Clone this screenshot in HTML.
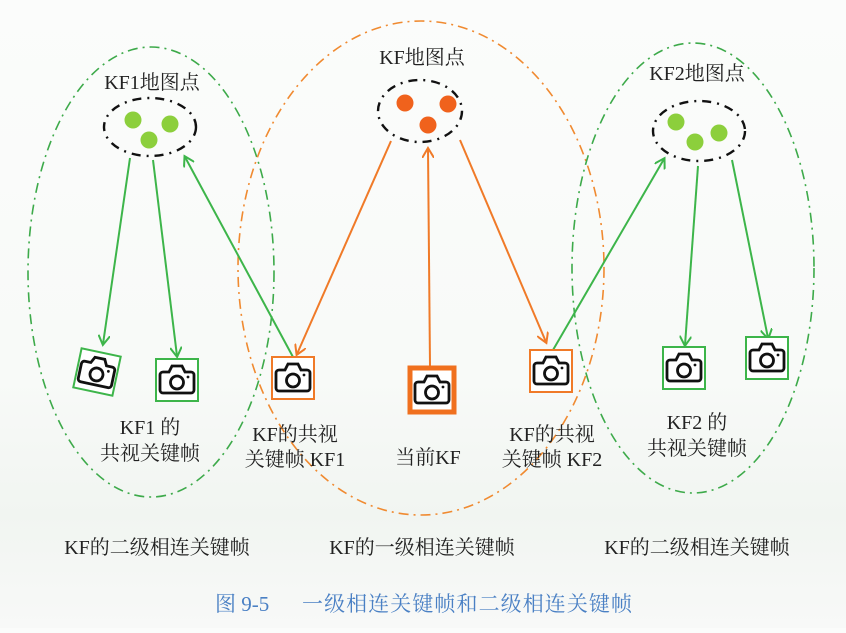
<!DOCTYPE html>
<html><head><meta charset="utf-8"><style>
html,body{margin:0;padding:0}
body{width:846px;height:628px;overflow:hidden;background:linear-gradient(#fbfcfb 0%,#f8faf8 60%,#f1f5f1 82%,#f8f9f8 100%);font-family:"Liberation Serif","Noto Serif CJK SC","Noto Sans CJK SC",serif}
svg text{font-family:"Liberation Serif","Noto Serif CJK SC","Noto Sans CJK SC",serif;fill:#222}
</style></head><body>
<svg width="846" height="628" viewBox="0 0 846 628" xmlns="http://www.w3.org/2000/svg">
<defs>
<marker id="ag" markerWidth="12" markerHeight="12" refX="9" refY="6" orient="auto" markerUnits="userSpaceOnUse"><path d="M0,0 L10,6 L0,12" fill="none" stroke="#3db54a" stroke-width="2"/></marker>
<marker id="ao" markerWidth="12" markerHeight="12" refX="9" refY="6" orient="auto" markerUnits="userSpaceOnUse"><path d="M0,0 L10,6 L0,12" fill="none" stroke="#f07a28" stroke-width="2"/></marker>
<g id="cam"><path d="M-14,-8 h6 l3,-6 h10 l3,6 h6 a3,3 0 0 1 3,3 v15 a3,3 0 0 1 -3,3 h-28 a3,3 0 0 1 -3,-3 v-15 a3,3 0 0 1 3,-3z" fill="none" stroke="#111" stroke-width="2.8"/><circle cx="0" cy="2.5" r="6.5" fill="none" stroke="#111" stroke-width="2.8"/><circle cx="11" cy="-3" r="1.4" fill="#111"/></g>
</defs>
<ellipse cx="151" cy="272" rx="123" ry="225" fill="none" stroke="#3daa4a" stroke-width="1.6" stroke-dasharray="10 5 2 5"/>
<ellipse cx="421" cy="268" rx="183" ry="247" fill="none" stroke="#f08a30" stroke-width="1.6" stroke-dasharray="10 5 2 5"/>
<ellipse cx="693" cy="268" rx="121" ry="225" fill="none" stroke="#3daa4a" stroke-width="1.6" stroke-dasharray="10 5 2 5"/>
<g fill="none" stroke="#111" stroke-width="2.4" stroke-dasharray="9 6 2 6">
<ellipse cx="150" cy="127" rx="46" ry="29"/>
<ellipse cx="420" cy="111" rx="42" ry="31"/>
<ellipse cx="699" cy="131" rx="46" ry="30"/>
</g>
<g fill="#8ccf3c"><circle cx="133" cy="120" r="8.5"/><circle cx="170" cy="124" r="8.5"/><circle cx="149" cy="140" r="8.5"/>
<circle cx="676" cy="122" r="8.5"/><circle cx="695" cy="142" r="8.5"/><circle cx="719" cy="133" r="8.5"/></g>
<g fill="#f0621c"><circle cx="405" cy="103" r="8.5"/><circle cx="448" cy="104" r="8.5"/><circle cx="428" cy="125" r="8.5"/></g>
<g stroke="#3db54a" stroke-width="2" marker-end="url(#ag)">
<line x1="130" y1="158" x2="103" y2="344"/>
<line x1="153" y1="160" x2="177" y2="356"/>
<line x1="293" y1="357" x2="185" y2="157"/>
<line x1="553" y1="350" x2="664" y2="159"/>
<line x1="698" y1="166" x2="685" y2="345"/>
<line x1="732" y1="160" x2="768" y2="338"/>
</g>
<g stroke="#f07a28" stroke-width="2" marker-end="url(#ao)">
<line x1="391" y1="141" x2="297" y2="354"/>
<line x1="430" y1="366" x2="428" y2="149"/>
<line x1="460" y1="140" x2="546" y2="342"/>
</g>
<g fill="#fff" stroke-width="2">
<g transform="translate(97,372) rotate(12)"><rect x="-20" y="-20" width="40" height="40" stroke="#3db54a"/><use href="#cam"/></g>
<g transform="translate(177,380)"><rect x="-21" y="-21" width="42" height="42" stroke="#3db54a"/><use href="#cam"/></g>
<g transform="translate(293,378)"><rect x="-21" y="-21" width="42" height="42" stroke="#f07a28"/><use href="#cam"/></g>
<g transform="translate(432,390)"><rect x="-22" y="-22" width="44" height="44" stroke="#f0701e" stroke-width="5"/><use href="#cam"/></g>
<g transform="translate(551,371)"><rect x="-21" y="-21" width="42" height="42" stroke="#f07a28"/><use href="#cam"/></g>
<g transform="translate(684,368)"><rect x="-21" y="-21" width="42" height="42" stroke="#3db54a"/><use href="#cam"/></g>
<g transform="translate(767,358)"><rect x="-21" y="-21" width="42" height="42" stroke="#3db54a"/><use href="#cam"/></g>
</g>
<g font-size="20" text-anchor="middle">
<text x="152" y="89">KF1地图点</text>
<text x="422" y="64">KF地图点</text>
<text x="697" y="80">KF2地图点</text>
<text x="150" y="434">KF1 的</text>
<text x="150" y="460">共视关键帧</text>
<text x="295" y="441">KF的共视</text>
<text x="295" y="466">关键帧 KF1</text>
<text x="428" y="464">当前KF</text>
<text x="552" y="441">KF的共视</text>
<text x="552" y="466">关键帧 KF2</text>
<text x="697" y="429">KF2 的</text>
<text x="697" y="455">共视关键帧</text>
<text x="157" y="554">KF的二级相连关键帧</text>
<text x="422" y="554">KF的一级相连关键帧</text>
<text x="697" y="554">KF的二级相连关键帧</text>
</g>
<text x="215" y="611" font-size="21" style="fill:#4a80c4">图 9-5</text>
<text x="302" y="611" font-size="21" textLength="330" style="fill:#4a80c4">一级相连关键帧和二级相连关键帧</text>
</svg>
</body></html>
